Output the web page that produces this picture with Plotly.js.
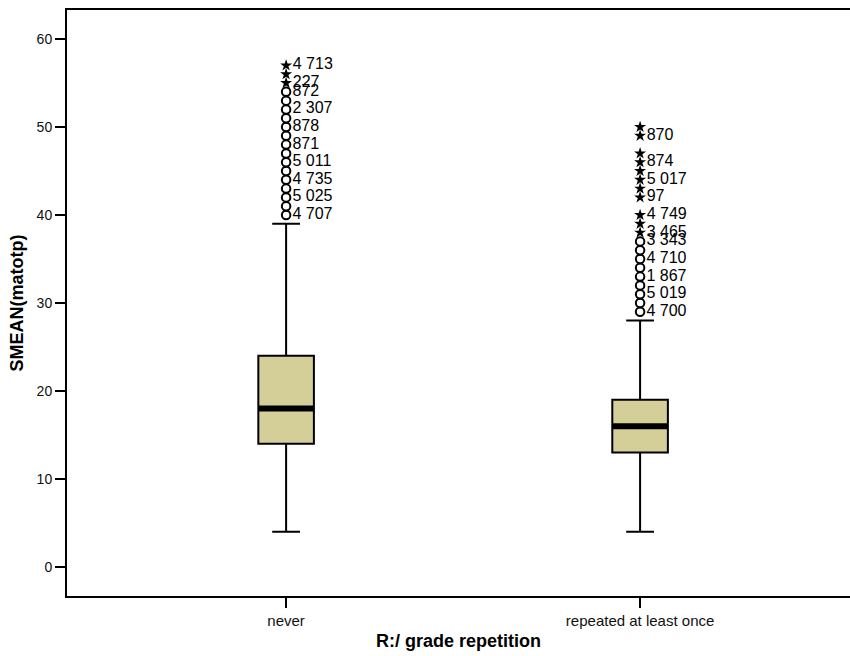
<!DOCTYPE html>
<html>
<head>
<meta charset="utf-8">
<script src="https://cdn.plot.ly/plotly-3.0.1.min.js"></script>
<style>html,body{margin:0;padding:0;background:#fff;}#chart{width:850px;height:656px;}</style>
</head>
<body>
<div id="chart"></div>
<script>
// ---- data ----
const categories = ['never', 'repeated at least once'];
const q1 = [14, 13];
const medians = [18, 16];
const q3 = [24, 19];
const lowerWhisker = [4, 4];
const upperWhisker = [39, 28];

const neverCircles = [40, 41, 42, 43, 44, 45, 46, 47, 48, 49, 50, 51, 52, 53, 54];
const neverStars = [55, 56, 57];
const neverLabelValues = [40, 42, 44, 46, 48, 50, 52, 54, 55, 57];
const neverLabelTexts = ['4 707', '5 025', '4 735', '5 011', '871', '878', '2 307', '872', '227', '4 713'];

const repCircles = [29, 30, 31, 32, 33, 34, 35, 36, 37];
const repStars = [38, 39, 40, 42, 43, 44, 45, 46, 47, 49, 50];
const repLabelValues = [29, 31, 33, 35, 37, 38, 40, 42, 44, 46, 49];
const repLabelTexts = ['4 700', '5 019', '1 867', '4 710', '3 343', '3 465', '4 749', '97', '5 017', '874', '870'];

// ---- build ----
function textsFor(values, lv, lt) {
  return values.map(v => { const i = lv.indexOf(v); return i >= 0 ? lt[i] : ''; });
}
const labelFont = {family: 'Liberation Sans, Arial, sans-serif', size: 16, color: '#000'};

const traces = [
  {
    type: 'box', x: categories, q1: q1, median: medians, q3: q3,
    lowerfence: lowerWhisker, upperfence: upperWhisker,
    boxpoints: false, width: 0.157, whiskerwidth: 0.5,
    fillcolor: 'rgb(212,206,152)', line: {color: '#000', width: 2},
    hoverinfo: 'skip', showlegend: false
  },
  {
    type: 'box', x: categories, q1: medians, median: medians, q3: medians,
    lowerfence: medians, upperfence: medians,
    boxpoints: false, width: 0.157, whiskerwidth: 0,
    fillcolor: 'rgba(0,0,0,0)', line: {color: '#000', width: 6},
    hoverinfo: 'skip', showlegend: false
  }
];

function outlierTraces(cat, circles, stars, lv, lt) {
  return [
    {
      type: 'scatter', mode: 'markers+text', x: circles.map(() => cat), y: circles,
      marker: {symbol: 'circle', size: 8.5, color: '#fff', line: {color: '#000', width: 2}},
      text: textsFor(circles, lv, lt), textposition: 'middle right', textfont: labelFont,
      cliponaxis: false, hoverinfo: 'skip', showlegend: false
    },
    {
      type: 'scatter', mode: 'markers+text', x: stars.map(() => cat), y: stars,
      marker: {symbol: 'star', size: 9, color: '#000', line: {width: 0}},
      text: textsFor(stars, lv, lt), textposition: 'middle right', textfont: labelFont,
      cliponaxis: false, hoverinfo: 'skip', showlegend: false
    }
  ];
}
traces.push(...outlierTraces(categories[0], neverCircles, neverStars, neverLabelValues, neverLabelTexts));
traces.push(...outlierTraces(categories[1], repCircles, repStars, repLabelValues, repLabelTexts));

const layout = {
  width: 850, height: 656,
  margin: {l: 67, r: 0, t: 10, b: 60},
  paper_bgcolor: '#fff', plot_bgcolor: '#fff',
  boxmode: 'overlay',
  font: {family: 'Liberation Sans, Arial, sans-serif', color: '#000'},
  xaxis: {
    type: 'category', range: [-0.619, 1.593],
    showline: true, linecolor: '#000', linewidth: 2, mirror: true,
    ticks: 'outside', ticklen: 10, tickwidth: 1.5, tickcolor: '#000',
    showgrid: false, zeroline: false,
    tickfont: {size: 15, color: '#111'},
    title: {text: '<b>R:/ grade repetition</b>', font: {size: 18}, standoff: 6}
  },
  yaxis: {
    range: [-3.3, 63.3], tickvals: [0, 10, 20, 30, 40, 50, 60],
    showline: true, linecolor: '#000', linewidth: 2,
    ticks: 'outside', ticklen: 10, tickwidth: 1.5, tickcolor: '#000',
    showgrid: false, zeroline: false,
    tickfont: {size: 14, color: '#111'},
    title: {text: '<b>SMEAN(matotp)</b>', font: {size: 18}, standoff: 8}
  }
};

Plotly.newPlot('chart', traces, layout, {displayModeBar: false, staticPlot: true});
</script>
</body>
</html>
